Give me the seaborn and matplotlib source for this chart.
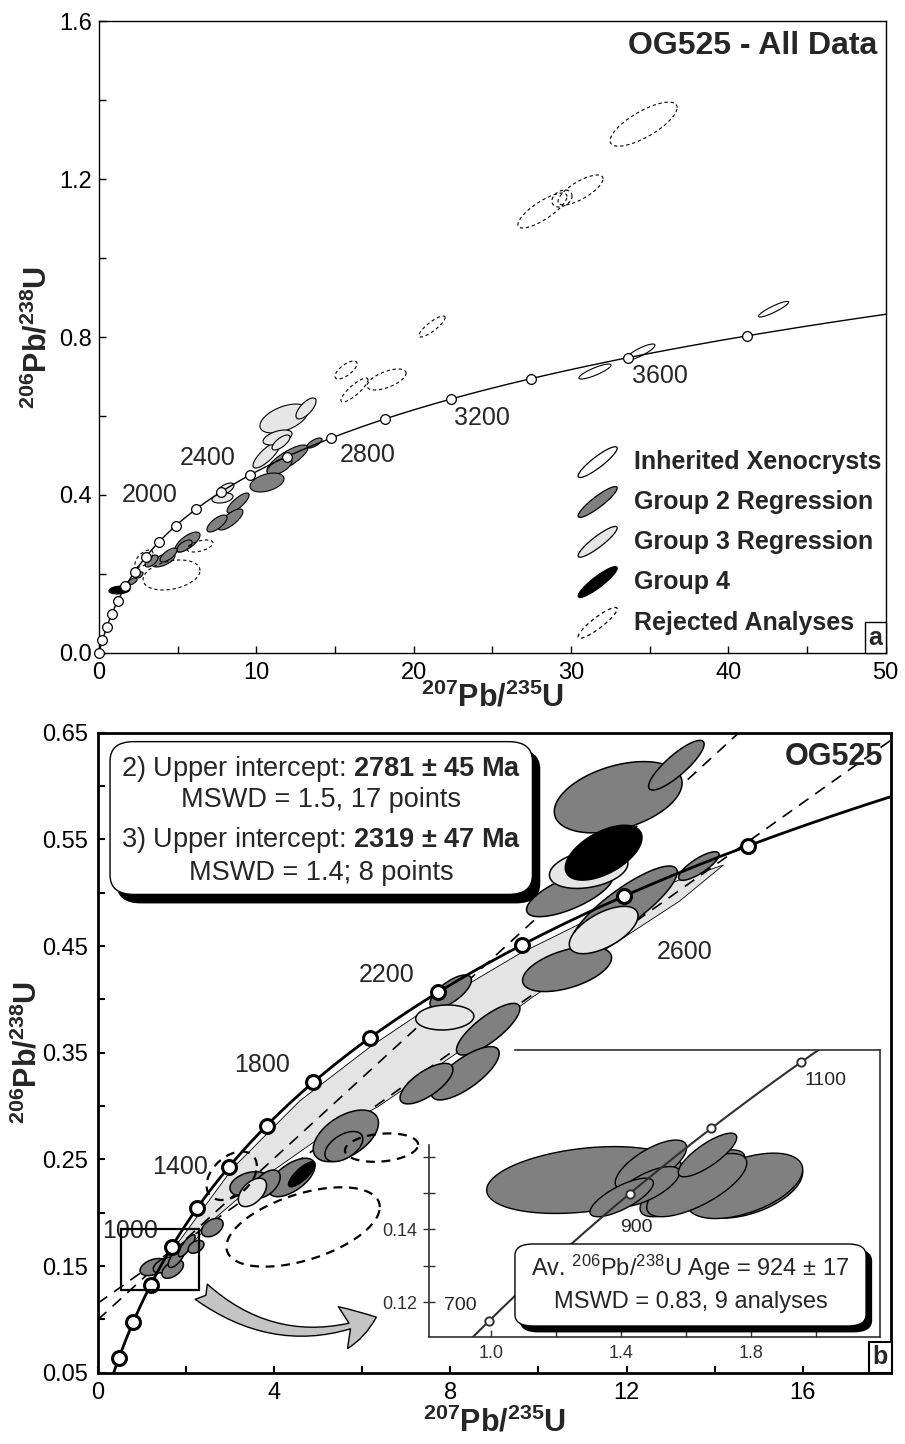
import numpy as np
import matplotlib
matplotlib.use("Agg")
import matplotlib.pyplot as plt
from matplotlib.patches import Polygon, FancyBboxPatch, FancyArrowPatch, Rectangle
import seaborn as sns

# ---------------------------------------------------------------- data
LAMBDA_238 = 1.55125e-4   # decay constant, 1/Ma
LAMBDA_235 = 9.8485e-4    # decay constant, 1/Ma

curve_ages = list(range(0, 4101, 20))                 # concordia curve ages (Ma)
a_marker_ages = list(range(0, 3801, 200))             # panel a age markers
a_label_ages = [2000, 2400, 2800, 3200, 3600]
a_label_x = [3.24, 6.90, 17.1, 24.35, 35.67]
a_label_y = [0.400, 0.493, 0.501, 0.596, 0.701]

b_marker_ages = list(range(400, 2801, 200))           # panel b age markers
b_label_ages = [1000, 1400, 1800, 2200, 2600]
b_label_x = [0.74, 1.86, 3.74, 6.55, 13.32]
b_label_y = [0.183, 0.2424, 0.3385, 0.4228, 0.444]

in_marker_ages = [700, 800, 900, 1000, 1100]           # inset age markers
in_label_ages = [700, 900, 1100]
in_label_x = [0.905, 1.448, 2.03]
in_label_y = [0.1190, 0.1404, 0.1809]

# ellipses: (207Pb/235U, 206Pb/238U, half-extent x, half-extent y, rho)
a_group2 = [(11.98, 0.4909, 1.30, 0.0355, 0.8), (11.47, 0.4719, 0.79, 0.0215, 0.6),
            (13.70, 0.5314, 0.48, 0.0127, 0.7), (10.68, 0.4313, 1.08, 0.0240, 0.4),
            (8.84, 0.3794, 0.70, 0.0253, 0.8), (8.36, 0.3376, 0.79, 0.0266, 0.75),
            (7.50, 0.3274, 0.64, 0.0215, 0.7), (5.63, 0.2805, 0.79, 0.0253, 0.7),
            (5.44, 0.2704, 0.48, 0.0152, 0.6), (4.10, 0.2349, 0.73, 0.0177, 0.6),
            (4.42, 0.2476, 0.54, 0.0177, 0.7), (3.34, 0.2324, 0.41, 0.0152, 0.6),
            (2.61, 0.1969, 0.19, 0.0076, 0.6), (2.10, 0.1804, 0.32, 0.0089, 0.6),
            (1.72, 0.1690, 0.25, 0.0076, 0.6)]
a_group3 = [(11.76, 0.5935, 1.53, 0.0367, 0.5), (13.16, 0.6190, 0.64, 0.0266, 0.7),
            (10.65, 0.5010, 0.86, 0.0330, 0.8), (11.35, 0.5454, 0.92, 0.0190, 0.5),
            (11.57, 0.5327, 0.57, 0.0190, 0.7), (8.04, 0.4148, 0.54, 0.0152, 0.6),
            (7.85, 0.3920, 0.67, 0.0127, 0.3)]
a_group4 = [(1.30, 0.1589, 0.67, 0.0101, 0.2)]
a_inherited = [(31.53, 0.7126, 1.02, 0.0190, 0.85), (34.42, 0.7620, 0.92, 0.0203, 0.85),
               (42.88, 0.8705, 0.96, 0.0198, 0.9)]
a_rejected = [(4.61, 0.1969, 1.81, 0.0380, 0.3), (6.42, 0.2704, 0.83, 0.0152, 0.5),
              (2.86, 0.2387, 0.57, 0.0215, 0.6), (34.62, 1.3395, 2.13, 0.0558, 0.75),
              (30.61, 1.1726, 1.43, 0.0380, 0.75), (29.43, 1.1510, 0.64, 0.0215, 0.3),
              (28.19, 1.1206, 1.56, 0.0443, 0.8), (21.17, 0.8267, 0.83, 0.0266, 0.85),
              (15.70, 0.7164, 0.70, 0.0228, 0.7), (16.24, 0.6657, 0.86, 0.0304, 0.85),
              (18.28, 0.6924, 1.24, 0.0266, 0.6)]

b_group2 = [(11.81, 0.5895, 1.45, 0.0334, 0.4), (13.13, 0.6195, 0.63, 0.0233, 0.85),
            (10.71, 0.4994, 0.98, 0.0219, 0.7), (10.65, 0.4284, 1.01, 0.0211, 0.5),
            (11.95, 0.4870, 1.20, 0.0380, 0.85), (13.64, 0.5250, 0.46, 0.0134, 0.8),
            (8.01, 0.4072, 0.47, 0.0156, 0.7), (8.86, 0.3720, 0.72, 0.0242, 0.8),
            (8.34, 0.3307, 0.77, 0.0250, 0.75), (7.46, 0.3210, 0.60, 0.0190, 0.7),
            (5.63, 0.2720, 0.74, 0.0242, 0.5), (5.585, 0.2620, 0.43, 0.0141, 0.5),
            (4.40, 0.2330, 0.53, 0.0180, 0.6), (3.45, 0.2267, 0.45, 0.0117, 0.3),
            (3.83, 0.2270, 0.31, 0.0130, 0.5), (2.60, 0.1860, 0.245, 0.0086, 0.4),
            (1.26, 0.1490, 0.30, 0.0080, 0.4), (1.53, 0.1510, 0.27, 0.0075, 0.5),
            (1.70, 0.1470, 0.245, 0.0085, 0.5), (1.79, 0.1580, 0.19, 0.0094, 0.7),
            (2.02, 0.1690, 0.19, 0.0103, 0.8), (2.23, 0.1680, 0.18, 0.0060, 0.4)]
b_group3 = [(11.14, 0.5220, 0.89, 0.0180, 0.3), (11.48, 0.4650, 0.78, 0.0222, 0.6),
            (7.875, 0.3830, 0.66, 0.0117, 0.1), (3.51, 0.2190, 0.32, 0.0133, 0.5)]
b_group4 = [(11.48, 0.5375, 0.87, 0.0257, 0.55), (4.63, 0.2360, 0.30, 0.0117, 0.8)]
b_rejected = [(6.44, 0.2610, 0.83, 0.0133, 0.2), (4.66, 0.1866, 1.74, 0.0372, 0.5),
              (3.04, 0.2346, 0.57, 0.0227, 0.4)]

inset_group = [(1.289, 0.1536, 0.3025, 0.0092, 0.3), (1.790, 0.1518, 0.169, 0.0087, 0.45),
               (1.780, 0.1520, 0.179, 0.0090, 0.5), (1.620, 0.1527, 0.1615, 0.0092, 0.75),
               (1.633, 0.1522, 0.154, 0.0087, 0.7), (1.492, 0.1577, 0.110, 0.0069, 0.7),
               (1.480, 0.1518, 0.100, 0.0055, 0.7), (1.666, 0.1605, 0.090, 0.0060, 0.8),
               (1.402, 0.1488, 0.0975, 0.0053, 0.75)]

# discordia lines (regressions 2 and 3)
disc2_x = [0.0, 18.0]
disc2_y = [0.1150, 0.6430]
disc3_x = [0.0, 14.55]
disc3_y = [0.0995, 0.6500]

# error envelope of regression 3
band_upper_x = [1.60, 1.79, 3.07, 4.59, 6.20, 7.535, 9.58, 11.69, 13.20, 14.20]
band_upper_y = [0.160, 0.170, 0.242, 0.305, 0.356, 0.393, 0.443, 0.486, 0.512, 0.526]
band_lower_x = [1.60, 1.87, 2.70, 3.68, 4.97, 6.36, 8.14, 9.88, 11.62, 13.20, 14.20]
band_lower_y = [0.160, 0.1588, 0.1962, 0.2307, 0.2682, 0.2994, 0.3494, 0.4025, 0.4494, 0.492, 0.526]

# zoom rectangle on panel b and arrow
zoom_rect_x = [0.52, 2.30]
zoom_rect_y = [0.1275, 0.1844]
arrow_start = (2.30, 0.1275)
arrow_end = (6.38, 0.103)

legend_labels = ["Inherited Xenocrysts", "Group 2 Regression", "Group 3 Regression",
                 "Group 4", "Rejected Analyses"]

# ---------------------------------------------------------------- style
sns.set_theme(style="white")
plt.rcParams["font.family"] = ["Liberation Sans", "DejaVu Sans"]
plt.rcParams["mathtext.fontset"] = "custom"
plt.rcParams["mathtext.rm"] = "Liberation Sans"
plt.rcParams["mathtext.bf"] = "Liberation Sans:bold"
plt.rcParams["mathtext.it"] = "Liberation Sans:italic"
plt.rcParams["mathtext.sf"] = "Liberation Sans"

DARK = "#808080"
LIGHT = "#e6e6e6"


def conc(ages):
    a = np.asarray(ages, dtype=float)
    return np.expm1(LAMBDA_235 * a), np.expm1(LAMBDA_238 * a)


def draw_ellipses(ax, rows, fc, lw=0.8, ls="-", z=3):
    t = np.linspace(0, 2 * np.pi, 120)
    for cx, cy, ex, ey, r in rows:
        xs = cx + ex * np.cos(t)
        ys = cy + ey * (r * np.cos(t) + np.sqrt(1 - r * r) * np.sin(t))
        ax.add_patch(Polygon(np.column_stack([xs, ys]), closed=True, fc=fc,
                             ec="black", lw=lw, ls=ls, zorder=z))


def style_axes(ax, lw):
    for s in ax.spines.values():
        s.set_visible(True)
        s.set_color("black")
        s.set_linewidth(lw)
    ax.tick_params(which="both", direction="in", length=5, width=lw, color="black",
                   bottom=True, left=True, top=False, right=False,
                   labelsize=17, pad=7, labelcolor="black")
    ax.grid(False)


fig = plt.figure(figsize=(9.05, 14.44), dpi=100)
fig.patch.set_facecolor("white")
axA = fig.add_axes([0.1094, 0.5480, 0.8691, 0.4372])
axB = fig.add_axes([0.1080, 0.0494, 0.8765, 0.4432])
axI = fig.add_axes([0.4744, 0.0741, 0.4980, 0.1988])

ylab = r"$\mathbf{{}^{206}Pb/{}^{238}U}$"
xlab = r"$\mathbf{{}^{207}Pb/{}^{235}U}$"

# ---------------------------------------------------------------- panel a
cx, cy = conc(curve_ages)
sns.lineplot(x=cx, y=cy, ax=axA, color="black", lw=1.0, sort=False,
             estimator=None, zorder=5)
draw_ellipses(axA, a_group2, DARK, lw=0.8)
draw_ellipses(axA, a_group3, LIGHT, lw=0.8)
draw_ellipses(axA, a_group4, "black", lw=0.8)
draw_ellipses(axA, a_inherited, "white", lw=0.8)
draw_ellipses(axA, a_rejected, "none", lw=0.8, ls=(0, (3, 2.5)))
mx, my = conc(a_marker_ages)
axA.plot(mx, my, "o", ms=7, mfc="white", mec="black", mew=0.9, zorder=6, clip_on=False)
for age, lx, ly in zip(a_label_ages, a_label_x, a_label_y):
    axA.text(lx, ly, str(age), fontsize=18, ha="center", va="center", zorder=7)

# legend
leg_x = 31.7
leg_y = [0.483, 0.382, 0.281, 0.179, 0.0756]
leg_fc = ["white", DARK, LIGHT, "black", "none"]
for i, (lab, fc) in enumerate(zip(legend_labels, leg_fc)):
    ls = (0, (3, 2.5)) if fc == "none" else "-"
    draw_ellipses(axA, [(leg_x, leg_y[i], 1.24, 0.039, 0.9)], fc, lw=0.9, ls=ls, z=6)
    axA.text(34.0, leg_y[i], lab, fontsize=18, fontweight="bold", ha="left",
             va="center", zorder=7)

axA.set_xlim(0, 50)
axA.set_ylim(0, 1.6)
axA.set_xticks([0, 10, 20, 30, 40, 50])
axA.set_xticks([5, 15, 25, 35, 45], minor=True)
axA.set_yticks([0, 0.4, 0.8, 1.2, 1.6])
axA.set_yticklabels(["0.0", "0.4", "0.8", "1.2", "1.6"])
axA.set_yticks([0.2, 0.6, 1.0, 1.4], minor=True)
style_axes(axA, 1.0)
axA.tick_params(axis="y", pad=5)
axA.set_xlabel(xlab, fontsize=22)
axA.set_ylabel(ylab, fontsize=22)
axA.xaxis.set_label_coords(0.5, -0.047)
axA.yaxis.set_label_coords(-0.058, 0.5)
axA.text(0.99, 0.985, "OG525 - All Data", transform=axA.transAxes, ha="right",
         va="top", fontsize=23, fontweight="bold")
axA.text(0.996, 0.005, "a", transform=axA.transAxes, ha="right", va="bottom",
         fontsize=18, fontweight="bold", zorder=8,
         bbox=dict(boxstyle="square,pad=0.15", fc="white", ec="black", lw=1.0))

# ---------------------------------------------------------------- panel b
band = np.column_stack([band_upper_x + band_lower_x[::-1],
                        band_upper_y + band_lower_y[::-1]])
axB.add_patch(Polygon(band, closed=True, fc="#e4e4e4", ec="black", lw=0.6, zorder=1))
sns.lineplot(x=disc2_x, y=disc2_y, ax=axB, color="black", lw=1.2, sort=False,
             estimator=None, zorder=2, dashes=False)
sns.lineplot(x=disc3_x, y=disc3_y, ax=axB, color="black", lw=1.2, sort=False,
             estimator=None, zorder=2, dashes=False)
for ln in axB.lines:
    ln.set_dashes([7, 5])
draw_ellipses(axB, b_group2, DARK, lw=1.1)
draw_ellipses(axB, b_group3, LIGHT, lw=1.1)
draw_ellipses(axB, b_group4, "black", lw=1.1)
draw_ellipses(axB, b_rejected, "none", lw=1.6, ls=(0, (4, 3)), z=4)
sns.lineplot(x=cx, y=cy, ax=axB, color="black", lw=2.0, sort=False,
             estimator=None, zorder=5)
bx, by = conc(b_marker_ages)
axB.plot(bx, by, "o", ms=10, mfc="white", mec="black", mew=2.2, zorder=6)
for age, lx, ly in zip(b_label_ages, b_label_x, b_label_y):
    axB.text(lx, ly, str(age), fontsize=18, ha="center", va="center", zorder=7)

axB.add_patch(Rectangle((zoom_rect_x[0], zoom_rect_y[0]),
                        zoom_rect_x[1] - zoom_rect_x[0], zoom_rect_y[1] - zoom_rect_y[0],
                        fill=False, ec="black", lw=1.6, zorder=8))
axB.add_patch(FancyArrowPatch(arrow_start, arrow_end, connectionstyle="arc3,rad=0.3",
                              arrowstyle="fancy,head_length=0.9,head_width=1.1,tail_width=0.5",
                              mutation_scale=28, fc="#c4c4c4", ec="black", lw=1.0,
                              zorder=8))

axB.set_xlim(0, 18)
axB.set_ylim(0.05, 0.65)
axB.set_xticks([0, 4, 8, 12, 16])
axB.set_xticks([2, 6, 10, 14], minor=True)
axB.set_yticks([0.05, 0.15, 0.25, 0.35, 0.45, 0.55, 0.65])
axB.set_yticklabels(["0.05", "0.15", "0.25", "0.35", "0.45", "0.55", "0.65"])
axB.set_yticks([0.10, 0.20, 0.30, 0.40, 0.50, 0.60], minor=True)
style_axes(axB, 2.0)
axB.tick_params(which="both", width=1.5)
axB.set_xlabel(xlab, fontsize=22)
axB.set_ylabel(ylab, fontsize=22)
axB.xaxis.set_label_coords(0.5, -0.054)
axB.yaxis.set_label_coords(-0.068, 0.5)
axB.text(0.99, 0.985, "OG525", transform=axB.transAxes, ha="right", va="top",
         fontsize=22, fontweight="bold", zorder=9)
axB.text(0.996, 0.005, "b", transform=axB.transAxes, ha="right", va="bottom",
         fontsize=18, fontweight="bold", zorder=9,
         bbox=dict(boxstyle="square,pad=0.15", fc="white", ec="black", lw=1.5))

# results box with shadow
bx0, by0, bw, bh = 0.0155, 0.7473, 0.5325, 0.2387
axB.add_patch(FancyBboxPatch((bx0 + 0.009, by0 - 0.013), bw, bh,
                             boxstyle="round,pad=0,rounding_size=0.03",
                             transform=axB.transAxes, fc="black", ec="black",
                             lw=1, zorder=9))
axB.add_patch(FancyBboxPatch((bx0, by0), bw, bh,
                             boxstyle="round,pad=0,rounding_size=0.03",
                             transform=axB.transAxes, fc="white", ec="black",
                             lw=1, zorder=10))
box_lines = ["2) Upper intercept: " + r"$\mathbf{2781\ ±\ 45\ Ma}$",
             "MSWD = 1.5, 17 points",
             "3) Upper intercept: " + r"$\mathbf{2319\ ±\ 47\ Ma}$",
             "MSWD = 1.4; 8 points"]
for ln_txt, yy in zip(box_lines, [0.9433, 0.8948, 0.8323, 0.7808]):
    axB.text(0.2815, yy, ln_txt, transform=axB.transAxes, ha="center", va="center",
             fontsize=19.5, zorder=11)

# ---------------------------------------------------------------- inset
axI.set_facecolor("none")
draw_ellipses(axI, inset_group, DARK, lw=1.0)
sns.lineplot(x=cx, y=cy, ax=axI, color="#303030", lw=1.5, sort=False,
             estimator=None, zorder=5)
ix, iy = conc(in_marker_ages)
axI.plot(ix, iy, "o", ms=6, mfc="white", mec="#303030", mew=1.4, zorder=6)
for age, lx, ly in zip(in_label_ages, in_label_x, in_label_y):
    axI.text(lx, ly, str(age), fontsize=14, ha="center", va="center", zorder=7)
axI.set_xlim(0.81, 2.197)
axI.set_ylim(0.1104, 0.1894)
for s in axI.spines.values():
    s.set_visible(True)
    s.set_color("#303030")
    s.set_linewidth(1.2)
axI.spines["top"].set_bounds(1.074, 2.197)
axI.spines["left"].set_bounds(0.1104, 0.1633)
axI.set_xticks([1.0, 1.4, 1.8])
axI.set_xticklabels(["1.0", "1.4", "1.8"])
axI.set_xticks([1.2, 1.6, 2.0], minor=True)
axI.set_yticks([0.12, 0.14])
axI.set_yticklabels(["0.12", "0.14"])
axI.set_yticks([0.13, 0.15, 0.16], minor=True)
axI.tick_params(axis="x", which="both", direction="in", length=5, width=1.0,
                bottom=True, top=False, labelsize=13, pad=6, colors="#303030")
axI.tick_params(axis="y", which="both", direction="inout", length=9, width=1.0,
                left=True, right=False, labelsize=13, pad=4, colors="#303030")
axI.grid(False)

ib0x, ib0y, ibw, ibh = 0.190, 0.0383, 0.779, 0.2857
axI.add_patch(FancyBboxPatch((ib0x + 0.012, ib0y - 0.02), ibw, ibh,
                             boxstyle="round,pad=0,rounding_size=0.04",
                             transform=axI.transAxes, fc="black", ec="black",
                             lw=1, zorder=9))
axI.add_patch(FancyBboxPatch((ib0x, ib0y), ibw, ibh,
                             boxstyle="round,pad=0,rounding_size=0.04",
                             transform=axI.transAxes, fc="white", ec="black",
                             lw=1, zorder=10))
axI.text(0.5795, 0.240, r"Av. $^{206}$Pb/$^{238}$U Age = 924 ± 17",
         transform=axI.transAxes, ha="center", va="center", fontsize=17, zorder=11)
axI.text(0.5795, 0.122, "MSWD = 0.83, 9 analyses", transform=axI.transAxes,
         ha="center", va="center", fontsize=17, zorder=11)

fig.savefig("out.png", dpi=100, facecolor="white")
